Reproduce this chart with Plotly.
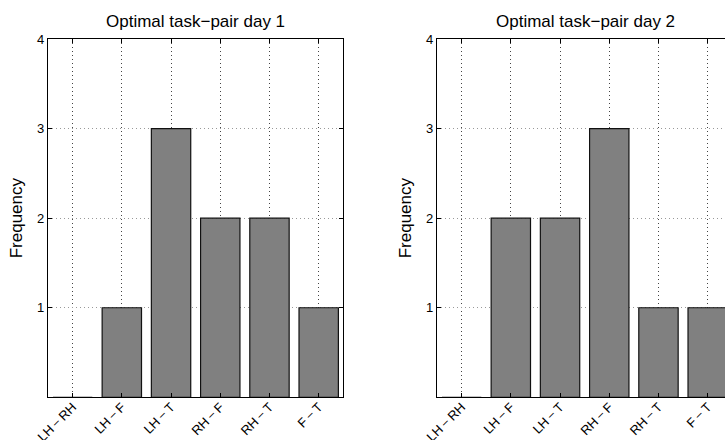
import plotly.graph_objects as go

categories = ["LH\u2009\u2212\u2009RH", "LH\u2009\u2212\u2009F", "LH\u2009\u2212\u2009T",
              "RH\u2009\u2212\u2009F", "RH\u2009\u2212\u2009T", "F\u2009\u2212\u2009T"]
day1 = [0, 1, 3, 2, 2, 1]
day2 = [0, 2, 2, 3, 1, 1]
titles = ["Optimal task\u2212pair day 1", "Optimal task\u2212pair day 2"]
ytick_vals = [1, 2, 3, 4]

W, H = 725, 440
FONT = "Liberation Sans, Arial, Helvetica, sans-serif"

fig = go.Figure()
idx = list(range(len(categories)))
for i, vals in enumerate([day1, day2]):
    sfx = "" if i == 0 else "2"
    fig.add_trace(go.Bar(
        x=idx, y=vals, xaxis="x" + sfx, yaxis="y" + sfx,
        marker=dict(color="#808080", line=dict(color="#111111", width=1.2)),
        width=0.8, showlegend=False, hoverinfo="skip",
    ))

ydom = [42.7 / H, 401 / H]
xdom1 = [48 / W, 343.3 / W]
xdom2 = [437 / W, 1.0]
ppu = (343.3 - 48) / 6.0
xmax2 = -0.5 + (W - 437) / ppu

common_x = dict(
    tickmode="array", tickvals=idx, ticktext=categories, tickangle=-45,
    showgrid=True, gridcolor="#444444", griddash="1px,3px", gridwidth=1,
    showline=True, linecolor="black", linewidth=1.3, mirror="ticks",
    ticks="inside", ticklen=4, tickcolor="black",
    zeroline=False, automargin=False, ticklabelstandoff=-4,
    tickfont=dict(size=13, color="black", family=FONT),
)
common_y = dict(
    range=[0, 4], tickmode="array", tickvals=ytick_vals,
    showgrid=True, gridcolor="#999999", griddash="1px,3px", gridwidth=1,
    showline=True, linecolor="black", linewidth=1.3,
    ticks="inside", ticklen=4, tickcolor="black",
    zeroline=False, automargin=False,
    tickfont=dict(size=13, color="black", family=FONT),
    title=dict(text="Frequency", font=dict(size=17, color="black", family=FONT), standoff=10),
)

fig.update_layout(
    width=W, height=H,
    margin=dict(l=0, r=0, t=0, b=0),
    paper_bgcolor="white", plot_bgcolor="white",
    font=dict(family=FONT, color="black"),
    xaxis=dict(domain=xdom1, range=[-0.5, 5.5], anchor="y", **common_x),
    yaxis=dict(domain=ydom, anchor="x", mirror="ticks", **common_y),
    xaxis2=dict(domain=xdom2, range=[-0.5, xmax2], anchor="y2", **common_x),
    yaxis2=dict(domain=ydom, anchor="x2", mirror=False, **common_y),
    annotations=[
        dict(text=titles[0], x=(xdom1[0] + xdom1[1]) / 2, y=1 - 21 / H, xref="paper", yref="paper",
             showarrow=False, font=dict(size=17, color="black", family=FONT), xanchor="center", yanchor="middle"),
        dict(text=titles[1], x=585 / W, y=1 - 21 / H, xref="paper", yref="paper",
             showarrow=False, font=dict(size=17, color="black", family=FONT), xanchor="center", yanchor="middle"),
    ],
)

fig.write_html("out.html", config={"displayModeBar": False},
               post_script="document.body.style.margin='0';document.body.style.overflow='hidden';")
